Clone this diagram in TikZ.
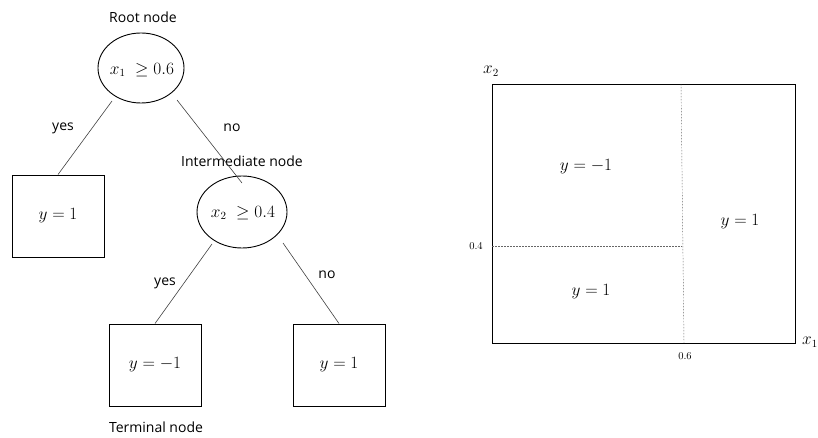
\documentclass[tikz,border=0pt]{standalone}
\usepackage{fontspec}
\setsansfont{Open Sans}
\usetikzlibrary{shapes.geometric}
\begin{document}
\begin{tikzpicture}[x=1pt,y=-1pt,
  lbl/.style={font=\sffamily\fontsize{14}{16}\selectfont, inner sep=0pt},
  mth/.style={font=\fontsize{16}{18}\selectfont, inner sep=0pt},
  ell/.style={draw, line width=0.9pt, ellipse, minimum width=#1, inner sep=0pt},
  leaf/.style={draw, line width=0.9pt, minimum width=92pt, minimum height=82pt, inner sep=0pt, font=\fontsize{16}{18}\selectfont},
  edge/.style={draw=black!75, line width=0.6pt},
  split/.style={draw=black!60, line width=0.45pt, dash pattern=on 1.5pt off 1.5pt},
  small/.style={font=\fontsize{10.5}{12}\selectfont, inner sep=0pt}]
\useasboundingbox (0,0) rectangle (818,438);
% tree
\node[lbl] (rootlbl) at (143,17) {Root node};
\node[ell=86pt, minimum height=70pt] (root) at (141,68) {};
\node[mth] (roottxt) at (142,70) {$x_1\ \geq 0.6$};
\node[leaf] (leafA) at (58,216) {$y=1$};
\node[lbl] (intlbl) at (242,161) {Intermediate node};
\node[ell=90pt, minimum height=72pt] (inter) at (242,212) {};
\node[mth] (intertxt) at (243,213) {$x_2\ \geq 0.4$};
\node[leaf] (leafB) at (155,365) {$y=-1$};
\node[leaf] (leafC) at (339,365) {$y=1$};
\node[lbl] (termlbl) at (156,427) {Terminal node};
\coordinate (rA) at (112,101);
\coordinate (rB) at (177,100);
\coordinate (iA) at (212,244);
\coordinate (iB) at (283,243);
\draw[edge] (rA) -- (leafA.north);
\draw[edge] (rB) -- (242,183);
\draw[edge] (iA) -- (leafB.north);
\draw[edge] (iB) -- (leafC.north);
\node[lbl] (yes1) at (63,128) {yes};
\node[lbl] (no1) at (232,128) {no};
\node[lbl] (yes2) at (165,283) {yes};
\node[lbl] (no2) at (327,275) {no};
% plot
\node[draw, line width=0.9pt, minimum width=303pt, minimum height=259pt, inner sep=0pt, anchor=north west] (plot) at (492,84) {};
\coordinate (vtop) at (681,84);
\coordinate (vbot) at (684,343);
\coordinate (hl) at (492,246);
\coordinate (hr) at (682,246);
\draw[split] (vtop) -- (vbot);
\draw[split] (hl) -- (hr);
\node[small] (l04) at (476,246) {0.4};
\node[small] (l06) at (685,356) {0.6};
\node[mth] (ax2) at (491,71) {$x_2$};
\node[mth] (ax1) at (810,342) {$x_1$};
\node[mth] (r1) at (586,167) {$y=-1$};
\node[mth] (r2) at (740,222) {$y=1$};
\node[mth] (r3) at (591,292) {$y=1$};
\end{tikzpicture}
\end{document}
